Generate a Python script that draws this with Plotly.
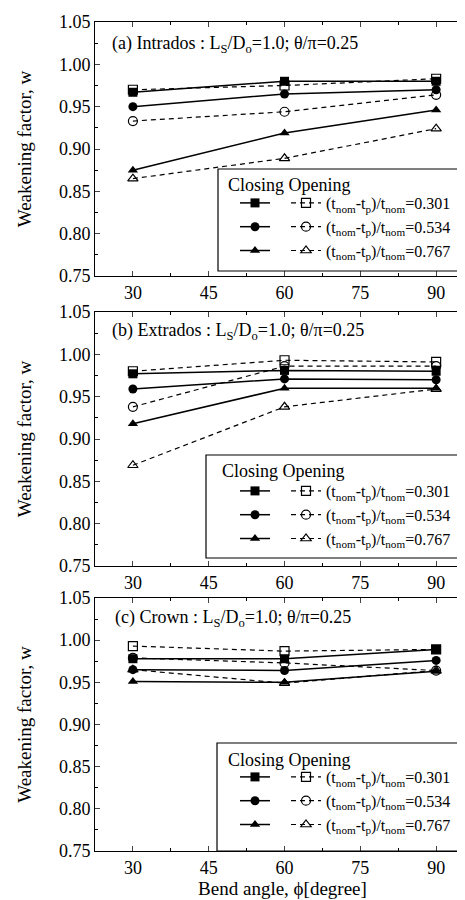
import plotly.graph_objects as go

angles = [30, 60, 90]

# (a) Intrados
a_close_301 = [0.967, 0.980, 0.980]
a_open_301 = [0.970, 0.975, 0.983]
a_close_534 = [0.950, 0.965, 0.970]
a_open_534 = [0.933, 0.944, 0.964]
a_close_767 = [0.875, 0.919, 0.946]
a_open_767 = [0.865, 0.889, 0.924]

# (b) Extrados
b_close_301 = [0.977, 0.981, 0.980]
b_open_301 = [0.980, 0.993, 0.991]
b_close_534 = [0.959, 0.971, 0.970]
b_open_534 = [0.938, 0.986, 0.986]
b_close_767 = [0.918, 0.960, 0.960]
b_open_767 = [0.869, 0.938, 0.959]

# (c) Crown
c_close_301 = [0.978, 0.978, 0.989]
c_open_301 = [0.993, 0.987, 0.989]
c_close_534 = [0.965, 0.964, 0.976]
c_open_534 = [0.979, 0.973, 0.964]
c_close_767 = [0.951, 0.950, 0.963]
c_open_767 = [0.965, 0.949, 0.964]

ratio_labels = ["0.301", "0.534", "0.767"]
panel_titles = [
    "(a) Intrados : L<sub>S</sub>/D<sub>o</sub>=1.0; θ/π=0.25",
    "(b) Extrados : L<sub>S</sub>/D<sub>o</sub>=1.0; θ/π=0.25",
    "(c) Crown : L<sub>S</sub>/D<sub>o</sub>=1.0; θ/π=0.25",
]
x_ticks = [30, 45, 60, 75, 90]
y_ticks = [0.75, 0.80, 0.85, 0.90, 0.95, 1.00, 1.05]

panels = [
    [(a_close_301, a_open_301), (a_close_534, a_open_534), (a_close_767, a_open_767)],
    [(b_close_301, b_open_301), (b_close_534, b_open_534), (b_close_767, b_open_767)],
    [(c_close_301, c_open_301), (c_close_534, c_open_534), (c_close_767, c_open_767)],
]

FONT = "Liberation Serif, Times New Roman, DejaVu Serif, serif"
W, H = 465, 900
ML, MR, MT, MB = 87, 3, 14, 57
PW = W - ML - MR
PH = H - MT - MB


def px_x(px):
    return (px - ML) / PW


def px_y(py):
    return (H - MB - py) / PH


# panel pixel extents (top, bottom)
panel_px = [(14, 268), (304, 558), (590, 843)]
# legend layout per panel: box (x0, y0, x1, y1), header position, first row top
legend_px = [
    dict(box=(210, 161, 460, 263), head=(218, 177), row=188),
    dict(box=(198, 447, 460, 550), head=(212, 463), row=476),
    dict(box=(209, 735, 460, 843), head=(218, 752), row=762),
]
title_px = [(102, 37), (102, 323), (105, 610)]

filled = ["square", "circle", "triangle-up"]
opened = ["square-open", "circle-open", "triangle-up-open"]

fig = go.Figure()
layout = dict(
    width=W, height=H,
    margin=dict(l=ML, r=MR, t=MT, b=MB),
    paper_bgcolor="white", plot_bgcolor="white",
    font=dict(family=FONT, size=18, color="black"),
    showlegend=True,
)
shapes = []
annotations = []

for p in range(3):
    sfx = "" if p == 0 else str(p + 1)
    xa, ya = "x" + sfx, "y" + sfx
    lg_c = "legend" if p == 0 else "legend" + str(2 * p + 1)
    lg_o = "legend" + str(2 * p + 2)
    for k, (cl, op) in enumerate(panels[p]):
        fig.add_trace(go.Scatter(
            x=angles, y=cl, xaxis=xa, yaxis=ya, mode="lines+markers",
            line=dict(color="black", width=1.5),
            marker=dict(symbol=filled[k], size=9, color="black"),
            name=" ", legend=lg_c, showlegend=True))
        fig.add_trace(go.Scatter(
            x=angles, y=op, xaxis=xa, yaxis=ya, mode="lines+markers",
            line=dict(color="black", width=1.2, dash="5px,4px"),
            marker=dict(symbol=opened[k], size=9, color="black",
                        line=dict(width=1.2, color="black")),
            name="(t<sub>nom</sub>-t<sub>p</sub>)/t<sub>nom</sub>=" + ratio_labels[k],
            legend=lg_o, showlegend=True))

    top, bot = panel_px[p]
    layout["xaxis" + sfx] = dict(
        domain=[0, 1], anchor=ya, range=[22.5, 96.7],
        tickvals=x_ticks, ticks="inside", ticklen=5, tickwidth=1,
        showline=True, linecolor="black", linewidth=1, mirror="ticks",
        showgrid=False, zeroline=False,
        minor=dict(dtick=7.5, tick0=0, ticks="inside", ticklen=3, tickcolor="black"),
        tickfont=dict(family=FONT, size=18),
        title=dict(text="Bend angle, ϕ[degree]" if p == 2 else "",
                   font=dict(family=FONT, size=19), standoff=4),
    )
    layout["yaxis" + sfx] = dict(
        domain=[px_y(bot), px_y(top)], anchor=xa, range=[0.75, 1.05],
        tickvals=y_ticks, tickformat=".2f", ticks="inside", ticklen=5, tickwidth=1,
        showline=True, linecolor="black", linewidth=1, mirror="ticks",
        showgrid=False, zeroline=False,
        minor=dict(dtick=0.025, tick0=0, ticks="inside", ticklen=3, tickcolor="black"),
        tickfont=dict(family=FONT, size=18),
        title=dict(text="Weakening factor, w", font=dict(family=FONT, size=19), standoff=22),
    )

    lp = legend_px[p]
    x0, y0, x1, y1 = lp["box"]
    shapes.append(dict(type="rect", xref="paper", yref="paper",
                       x0=px_x(x0), x1=px_x(x1), y0=px_y(y1), y1=px_y(y0),
                       line=dict(color="black", width=1.2), fillcolor="rgba(0,0,0,0)"))
    annotations.append(dict(text="Closing Opening", xref="paper", yref="paper",
                            x=px_x(lp["head"][0]), y=px_y(lp["head"][1]),
                            xanchor="left", yanchor="middle", showarrow=False,
                            font=dict(family=FONT, size=18)))
    tx, ty = title_px[p]
    annotations.append(dict(text=panel_titles[p], xref="paper", yref="paper",
                            x=px_x(tx), y=px_y(ty), xanchor="left", yanchor="middle",
                            showarrow=False, font=dict(family=FONT, size=18)))
    common = dict(yanchor="top", xanchor="left", bgcolor="rgba(0,0,0,0)",
                  borderwidth=0, font=dict(family=FONT, size=16),
                  tracegroupgap=0, itemwidth=30)
    layout[lg_c] = dict(x=px_x(227), y=px_y(lp["row"] - 10), **common)
    layout[lg_o] = dict(x=px_x(278), y=px_y(lp["row"] - 10), **common)

layout["shapes"] = shapes
layout["annotations"] = annotations
fig.update_layout(**layout)
fig.write_html("out.html")
